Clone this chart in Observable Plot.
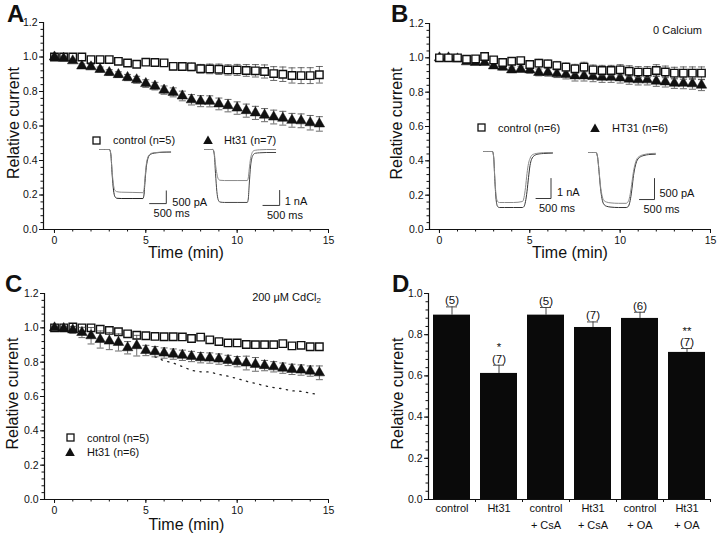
<!DOCTYPE html>
<html><head><meta charset="utf-8">
<script src="https://cdn.jsdelivr.net/npm/d3@7"></script>
<script src="https://cdn.jsdelivr.net/npm/@observablehq/plot@0.6"></script>
<style>
html,body{margin:0;padding:0;background:#fff;}
#root{position:relative;width:720px;height:534px;overflow:hidden;background:#fff;font-family:'Liberation Sans',Arial,Helvetica,sans-serif;color:#111;}
.lbl{position:absolute;font-size:11px;line-height:1;white-space:nowrap;transform:translateY(-50%);}
.letter{position:absolute;font-size:24px;font-weight:bold;line-height:24px;}
</style></head>
<body><div id="root"></div>
<script>
const FONT = "'Liberation Sans', Arial, Helvetica, sans-serif";

// ---------- data ----------
const times = [0,0.5,1,1.5,2,2.5,3,3.5,4,4.5,5,5.5,6,6.5,7,7.5,8,8.5,9,9.5,10,10.5,11,11.5,12,12.5,13,13.5,14,14.5];
const yTicksMajor = [0,0.2,0.4,0.6,0.8,1.0,1.2];
const xTicksMajor = [0,5,10,15];

// Panel A
const aControl = [1.00,1.00,1.00,1.00,0.985,0.985,0.985,0.975,0.965,0.958,0.970,0.968,0.966,0.946,0.945,0.943,0.932,0.931,0.929,0.925,0.925,0.922,0.920,0.916,0.904,0.900,0.893,0.892,0.892,0.897];
const aControlErr = [0.004,0.006,0.006,0.008,0.010,0.010,0.010,0.012,0.012,0.012,0.012,0.015,0.015,0.020,0.020,0.022,0.025,0.028,0.030,0.030,0.032,0.034,0.036,0.038,0.040,0.042,0.044,0.046,0.046,0.048];
const aHt31 = [1.00,0.993,0.978,0.948,0.943,0.928,0.910,0.898,0.881,0.868,0.846,0.831,0.808,0.795,0.774,0.752,0.744,0.743,0.728,0.718,0.704,0.689,0.676,0.663,0.652,0.645,0.633,0.630,0.619,0.612];
const aHt31Err = [0.004,0.008,0.010,0.012,0.014,0.014,0.016,0.016,0.018,0.020,0.022,0.022,0.024,0.026,0.028,0.030,0.032,0.032,0.034,0.036,0.036,0.038,0.038,0.038,0.040,0.040,0.040,0.040,0.042,0.042];

// Panel B (0 Calcium)
const bControl = [1.00,1.00,1.00,0.992,0.994,1.008,0.988,0.973,0.980,0.984,0.961,0.969,0.965,0.955,0.946,0.936,0.946,0.930,0.926,0.926,0.930,0.922,0.917,0.917,0.926,0.918,0.911,0.911,0.911,0.911];
const bControlErr = [0.004,0.006,0.008,0.010,0.012,0.014,0.014,0.016,0.016,0.018,0.020,0.022,0.022,0.024,0.024,0.026,0.028,0.028,0.030,0.030,0.030,0.032,0.032,0.032,0.034,0.034,0.034,0.036,0.036,0.036];
const bHt31 = [1.00,1.00,0.994,0.977,0.973,0.973,0.953,0.946,0.930,0.934,0.930,0.915,0.915,0.907,0.903,0.895,0.895,0.891,0.887,0.887,0.883,0.876,0.872,0.872,0.864,0.860,0.852,0.852,0.849,0.841];
const bHt31Err = [0.004,0.006,0.008,0.010,0.012,0.012,0.014,0.016,0.016,0.018,0.020,0.020,0.022,0.022,0.026,0.030,0.030,0.030,0.030,0.030,0.030,0.030,0.030,0.030,0.030,0.030,0.030,0.032,0.032,0.032];

// Panel C (200 uM CdCl2)
const cControl = [1.00,1.00,1.005,1.00,1.00,0.992,0.985,0.977,0.965,0.957,0.954,0.950,0.948,0.948,0.947,0.938,0.946,0.930,0.920,0.912,0.912,0.903,0.902,0.902,0.902,0.908,0.895,0.898,0.890,0.890];
const cControlErr = [0.004,0.005,0.006,0.006,0.006,0.007,0.007,0.008,0.008,0.008,0.008,0.008,0.009,0.009,0.009,0.010,0.010,0.010,0.010,0.010,0.010,0.011,0.011,0.011,0.011,0.012,0.012,0.012,0.012,0.012];
const cHt31 = [1.00,0.996,0.988,0.973,0.954,0.932,0.923,0.915,0.884,0.896,0.868,0.861,0.853,0.847,0.840,0.833,0.826,0.824,0.818,0.810,0.803,0.795,0.787,0.780,0.773,0.765,0.758,0.754,0.748,0.738];
const cHt31Err = [0.005,0.010,0.020,0.030,0.048,0.050,0.050,0.050,0.036,0.060,0.030,0.030,0.030,0.030,0.030,0.030,0.030,0.030,0.030,0.030,0.030,0.040,0.040,0.030,0.030,0.030,0.030,0.030,0.030,0.040];

// Panel D
const dCategories = ["control","Ht31","control + CsA","Ht31 + CsA","control + OA","Ht31 + OA"];
const dLabels = ["control","Ht31","control\n+ CsA","Ht31\n+ CsA","control\n+ OA","Ht31\n+ OA"];
const dMeans = [0.895,0.612,0.895,0.835,0.879,0.714];
const dErr = [0.040,0.040,0.037,0.027,0.030,0.019];
const dN = [5,7,5,7,6,7];
const dSig = ["","*","","","","**"];
const dTicksMajor = [0,0.2,0.4,0.6,0.8,1.0];

// Inset current traces (ms, nA)
const insetAControlT = [0,300,340,380,420,460,520,650,1000,1300,1330,1360,1400,1450,1500,1580,1700,1900,2130];
const insetAControl1 = [0,0,-0.2,-1.0,-1.6,-1.85,-1.92,-1.93,-1.93,-1.93,-1.80,-1.30,-0.70,-0.35,-0.22,-0.16,-0.13,-0.11,-0.10];
const insetAControl2 = [0,0,-0.18,-0.9,-1.4,-1.6,-1.66,-1.68,-1.69,-1.70,-1.60,-1.15,-0.60,-0.30,-0.20,-0.14,-0.12,-0.10,-0.10];
const insetAHt31T = [0,250,290,330,370,410,460,600,1000,1280,1310,1340,1380,1420,1460,1520,1650,1850,2130];
const insetAHt311 = [0,0,-0.3,-1.6,-2.8,-3.35,-3.5,-3.53,-3.53,-3.53,-3.30,-2.30,-1.10,-0.55,-0.35,-0.25,-0.22,-0.20,-0.20];
const insetAHt312 = [0,0,-0.2,-1.0,-1.6,-1.95,-2.05,-2.07,-2.07,-2.07,-1.90,-1.30,-0.60,-0.25,-0.10,-0.05,-0.02,0,0];
const insetBControlT = [0,300,340,380,420,470,530,700,1000,1300,1350,1400,1450,1500,1550,1600,1700,1850,2000,2300];
const insetBControl1 = [0,0,-0.3,-1.5,-2.4,-2.75,-2.8,-2.8,-2.8,-2.8,-2.75,-2.5,-2.0,-1.3,-0.7,-0.4,-0.2,-0.12,-0.10,-0.08];
const insetBControl2 = [0,0,-0.3,-1.4,-2.2,-2.5,-2.55,-2.55,-2.55,-2.5,-2.3,-1.8,-1.1,-0.6,-0.35,-0.2,-0.12,-0.08,-0.06,-0.05];
const insetBHt31T = [0,250,300,350,400,450,500,600,750,1000,1250,1300,1350,1400,1450,1500,1550,1600,1700,1850,2000,2230];
const insetBHt311 = [0,0,-0.1,-0.45,-0.85,-1.1,-1.22,-1.28,-1.3,-1.31,-1.31,-1.3,-1.25,-1.1,-0.85,-0.55,-0.35,-0.22,-0.12,-0.07,-0.05,-0.04];
const insetBHt312 = [0,0,-0.1,-0.42,-0.8,-1.02,-1.13,-1.18,-1.2,-1.21,-1.21,-1.19,-1.12,-0.95,-0.7,-0.45,-0.28,-0.17,-0.09,-0.05,-0.03,-0.02];

// ---------- helpers ----------
const root = document.getElementById("root");
function place(el, left, top) { el.style.position = "absolute"; el.style.left = left + "px"; el.style.top = top + "px"; root.appendChild(el); return el; }
function html(tag, cls, text, left, top, extra) {
  const el = document.createElement(tag); if (cls) el.className = cls; el.innerHTML = text;
  el.style.left = left + "px"; el.style.top = top + "px"; if (extra) Object.assign(el.style, extra);
  root.appendChild(el); return el;
}
const cap = {draw(ctx) { ctx.moveTo(-3.5, 0); ctx.lineTo(3.5, 0); }};

function seriesMarks(rows, key, errKey, kind) {
  const lo = d => d[key] - d[errKey], hi = d => d[key] + d[errKey];
  const es = {stroke: "#444", strokeWidth: 0.8};
  const m = [
    Plot.ruleX(rows, {x: "t", y1: lo, y2: hi, ...es}),
    Plot.dot(rows, {x: "t", y: hi, symbol: cap, fill: "none", ...es}),
    Plot.dot(rows, {x: "t", y: lo, symbol: cap, fill: "none", ...es})
  ];
  if (kind === "square") m.push(Plot.dot(rows, {x: "t", y: key, symbol: "square", r: 4.2, fill: "white", stroke: "#111", strokeWidth: 1.4}));
  else m.push(Plot.dot(rows, {x: "t", y: key, symbol: "triangle", r: 3.9, fill: "#111", stroke: "#111", strokeWidth: 0.5}));
  return m;
}

function timePanel(cfg) {
  const rows = times.map((t, i) => ({t, c: cfg.ctl[i], ce: cfg.ctlErr[i], h: cfg.ht[i], he: cfg.htErr[i]}));
  const ctl = seriesMarks(rows, "c", "ce", "square");
  const ht = seriesMarks(rows, "h", "he", "triangle");
  return Plot.plot({
    width: 360, height: 267,
    marginLeft: cfg.ml, marginRight: cfg.mr, marginTop: cfg.mt, marginBottom: cfg.mb,
    style: {fontFamily: FONT, fontSize: "10.5px", background: "none", color: "#111", overflow: "visible"},
    x: {domain: [cfg.xmin, 15], label: null},
    y: {domain: [0, 1.2], label: null},
    marks: [
      Plot.axisY({ticks: d3.range(0, 1.2001, 0.04), tickSize: 2.5, tickFormat: () => "", label: null}),
      Plot.axisY({ticks: yTicksMajor, tickSize: 4, tickPadding: 2, tickFormat: d3.format(".1f"), label: null}),
      Plot.axisX({ticks: d3.range(0, 15.01, 1), tickSize: 2.5, tickFormat: () => "", label: null}),
      Plot.axisX({ticks: xTicksMajor, tickSize: 4, tickPadding: 3, label: null}),
      Plot.ruleX([cfg.xmin], {stroke: "#111", strokeWidth: 1.2}),
      Plot.ruleY([0], {stroke: "#111", strokeWidth: 1.2}),
      Plot.text(["Relative current"], {frameAnchor: "left", textAnchor: "middle", lineAnchor: "middle", rotate: -90, dx: cfg.ylabDx, dy: -3, fontSize: 16}),
      Plot.text(["Time (min)"], {frameAnchor: "bottom", textAnchor: "middle", lineAnchor: "middle", dy: cfg.xlabDy, fontSize: 16}),
      ...(cfg.extra || []),
      ...(cfg.squaresOnTop ? [...ht, ...ctl] : [...ctl, ...ht])
    ]
  });
}

function inset(cfg) {
  const rows = [];
  cfg.traces.forEach((tr, k) => tr.v.forEach((v, i) => rows.push({id: k, t: tr.t[i], v, color: tr.color})));
  const b = cfg.bar;
  const barPts = [{t: b.t0, v: b.y}, {t: b.t0 + 500, v: b.y}, {t: b.t0 + 500, v: b.y + b.dI}];
  const ppm = cfg.pxPerMs, ppn = cfg.pxPerNA;
  const p = Plot.plot({
    width: cfg.width, height: cfg.height, margin: 0,
    style: {fontFamily: FONT, fontSize: "11px", background: "none", color: "#111", overflow: "visible"},
    x: {domain: [-(cfg.x0 - cfg.left) / ppm, (cfg.left + cfg.width - cfg.x0) / ppm], axis: null},
    y: {domain: [-(cfg.top + cfg.height - cfg.base) / ppn, (cfg.base - cfg.top) / ppn], axis: null},
    marks: [
      Plot.line(rows, {x: "t", y: "v", z: "id", stroke: "color", strokeWidth: 1, curve: "monotone-x"}),
      Plot.line(barPts, {x: "t", y: "v", stroke: "#222", strokeWidth: 0.9}),
      Plot.text([b.labelI], {x: b.t0 + 500, y: b.y, text: d => d, textAnchor: "start", dx: b.idx, dy: b.idy}),
      Plot.text(["500 ms"], {x: b.t0, y: b.y, text: d => d, textAnchor: "start", dx: b.tdx, dy: 10})
    ]
  });
  place(p, cfg.left, cfg.top);
}

function squareIcon() { return `<svg width="9" height="9" style="position:absolute;left:-4.5px;top:-4.5px;overflow:visible"><rect x="1" y="1" width="7" height="7" fill="white" stroke="#111" stroke-width="1.3"/></svg>`; }
function triIcon() { return `<svg width="10" height="10" style="position:absolute;left:-5px;top:-5px;overflow:visible"><polygon points="5,0.5 9.8,9 0.2,9" fill="#111"/></svg>`; }
function legend(cx, cy, kind, textX, text) {
  const d = document.createElement("div"); d.style.position = "absolute"; d.style.left = cx + "px"; d.style.top = cy + "px";
  d.innerHTML = kind === "square" ? squareIcon() : triIcon(); root.appendChild(d);
  html("div", "lbl", text, textX, cy);
}

// ---------- Panel A ----------
place(timePanel({ctl: aControl, ctlErr: aControlErr, ht: aHt31, htErr: aHt31Err,
  xmin: -0.6, ml: 43, mr: 32, mt: 22, mb: 38, ylabDx: -30, xlabDy: 23, squaresOnTop: false}), 0, 0);

// ---------- Panel B ----------
place(timePanel({ctl: bControl, ctlErr: bControlErr, ht: bHt31, htErr: bHt31Err,
  xmin: -0.55, ml: 69, mr: 10, mt: 23, mb: 38, ylabDx: -33, xlabDy: 23, squaresOnTop: true}), 360, 0);

// ---------- Panel C ----------
const aHt31Rows = times.map((t, i) => ({t, v: aHt31[i]})).filter(d => d.t >= 5.5);
place(timePanel({ctl: cControl, ctlErr: cControlErr, ht: cHt31, htErr: cHt31Err,
  xmin: -0.55, ml: 44, mr: 32, mt: 26, mb: 35, ylabDx: -32, xlabDy: 25, squaresOnTop: false,
  extra: [Plot.line(aHt31Rows, {x: "t", y: "v", stroke: "#222", strokeWidth: 1.3, strokeDasharray: "1.3 5.5", strokeLinecap: "round"})]}), 0, 267);

// ---------- Panel D ----------
const dRows = dCategories.map((c, i) => ({cat: c, label: dLabels[i], m: dMeans[i], hi: dMeans[i] + dErr[i],
  note: (dSig[i] ? dSig[i] + "\n" : "") + "(" + dN[i] + ")"}));
const pD = Plot.plot({
  width: 360, height: 267, marginLeft: 68, marginRight: 10, marginTop: 26, marginBottom: 35,
  style: {fontFamily: FONT, fontSize: "10.5px", background: "none", color: "#111", overflow: "visible"},
  x: {type: "band", domain: dCategories, paddingInner: 0.21, paddingOuter: 0.105, label: null},
  y: {domain: [0, 1.0], label: null},
  marks: [
    Plot.axisY({ticks: d3.range(0, 1.0001, 0.04), tickSize: 2.5, tickFormat: () => "", label: null}),
    Plot.axisY({ticks: dTicksMajor, tickSize: 4, tickPadding: 2, tickFormat: d3.format(".1f"), label: null}),
    Plot.axisX({ticks: dCategories, tickSize: 3, tickFormat: () => "", dx: 23.5, label: null}),
    Plot.ruleX([dCategories[0]], {dx: -23.5, stroke: "#111", strokeWidth: 1.2}),
    Plot.ruleY([0], {stroke: "#111", strokeWidth: 1.2}),
    Plot.ruleX(dRows, {x: "cat", y1: "m", y2: "hi", stroke: "#333", strokeWidth: 0.9}),
    Plot.tickY(dRows, {x: "cat", y: "hi", stroke: "#333", strokeWidth: 0.9, insetLeft: 13, insetRight: 13}),
    Plot.barY(dRows, {x: "cat", y: "m", fill: "#0a0a0a"}),
    Plot.text(dRows, {x: "cat", y: "hi", text: "note", lineAnchor: "bottom", lineHeight: 1.0, dy: -2.5, fontSize: 11.5}),
    Plot.text(dRows, {x: "cat", text: "label", frameAnchor: "bottom", lineAnchor: "top", dy: 0, fontSize: 11, lineHeight: 1.55}),
    Plot.text(["Relative current"], {frameAnchor: "left", textAnchor: "middle", lineAnchor: "middle", rotate: -90, dx: -31, dy: -3, fontSize: 16})
  ]
});
place(pD, 360, 267);

// ---------- insets ----------
inset({left: 95, top: 140, width: 115, height: 82, x0: 99, base: 149, pxPerMs: 16.7 / 500, pxPerNA: 25.4,
  traces: [{t: insetAControlT, v: insetAControl1, color: "#222"}, {t: insetAControlT, v: insetAControl2, color: "#8a8a8a"}],
  bar: {t0: 1500, y: -2.13, dI: 0.5, labelI: "500 pA", idx: 6, idy: -1, tdx: 4}});
inset({left: 200, top: 140, width: 105, height: 82, x0: 204, base: 149, pxPerMs: 16.7 / 500, pxPerNA: 15,
  traces: [{t: insetAHt31T, v: insetAHt311, color: "#444"}, {t: insetAHt31T, v: insetAHt312, color: "#8a8a8a"}],
  bar: {t0: 1750, y: -3.73, dI: 1, labelI: "1 nA", idx: 5, idy: -4, tdx: 4}});
inset({left: 478, top: 145, width: 105, height: 75, x0: 483, base: 151, pxPerMs: 0.03, pxPerNA: 20,
  traces: [{t: insetBControlT, v: insetBControl1, color: "#333"}, {t: insetBControlT, v: insetBControl2, color: "#8a8a8a"}],
  bar: {t0: 1750, y: -2.35, dI: 1, labelI: "1 nA", idx: 6, idy: -6, tdx: 3}});
inset({left: 583, top: 145, width: 105, height: 75, x0: 588, base: 152, pxPerMs: 0.03, pxPerNA: 42,
  traces: [{t: insetBHt31T, v: insetBHt311, color: "#333"}, {t: insetBHt31T, v: insetBHt312, color: "#8a8a8a"}],
  bar: {t0: 1700, y: -1.12, dI: 0.5, labelI: "500 pA", idx: 5, idy: -6, tdx: 4}});

// ---------- legends & annotations ----------
legend(96, 140, "square", 113, "control (n=5)");
legend(207.5, 140, "triangle", 224, "Ht31 (n=7)");
legend(481.5, 127.5, "square", 498, "control (n=6)");
legend(595, 127.5, "triangle", 612, "HT31 (n=6)");
legend(70, 437.5, "square", 87, "control (n=5)");
legend(70, 451.5, "triangle", 87, "Ht31 (n=6)");
html("div", "lbl", "0 Calcium", 0, 30, {left: "auto", right: (720 - 702) + "px"});
html("div", "lbl", "200 &mu;M CdCl<sub style='font-size:8px;vertical-align:-2px'>2</sub>", 0, 298, {left: "auto", right: (720 - 321) + "px"});

html("div", "letter", "A", 7, 2);
html("div", "letter", "B", 391, 2);
html("div", "letter", "C", 5, 272);
html("div", "letter", "D", 392, 272);
</script></body></html>
